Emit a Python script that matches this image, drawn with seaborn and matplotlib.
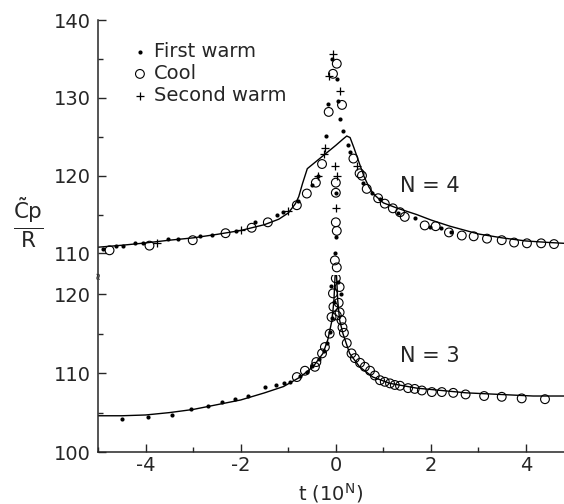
import matplotlib
matplotlib.use("Agg")
import matplotlib.pyplot as plt
import seaborn as sns
from matplotlib.ticker import MultipleLocator

# ---- data ----
# N = 4 (upper panel)
curve4_t = [-5.0, -4.5, -4.0, -3.5, -3.0, -2.5, -2.0, -1.5, -1.2, -1.0, -0.85, -0.78,
            -0.7, -0.6, 0.0, 0.15, 0.23, 0.3, 0.38, 0.5, 0.6, 0.7, 0.8, 1.0, 1.3, 1.7,
            2.0, 2.4, 3.0, 3.5, 4.0, 4.5, 4.8]
curve4_c = [110.8, 111.05, 111.35, 111.7, 112.0, 112.45, 112.95, 113.7, 114.4, 115.2,
            116.4, 117.3, 119.0, 120.9, 123.9, 124.7, 125.1, 124.9, 123.6, 121.5, 119.8,
            118.5, 117.6, 116.5, 115.8, 115.0, 114.3, 113.5, 112.5, 112.0, 111.6, 111.4, 111.3]

warm1_4_t = [-4.9, -4.62, -4.48, -4.23, -4.06, -3.54, -3.33, -2.86, -2.61, -2.1, -1.7,
             -1.24, -1.12, -0.8, -0.51, -0.38, -0.21, -0.08, 0.02, 0.04, -0.17, 0.08, 0.15,
             0.26, 0.3, 0.57, 0.76, 0.92, 1.3, 1.66, 1.98, 2.22, 2.42, 0.0, 0.0, -0.02]
warm1_4_c = [110.6, 110.9, 111.0, 111.3, 111.3, 111.8, 111.8, 112.2, 112.4, 112.9, 114.0,
             114.9, 115.3, 116.8, 118.8, 120.0, 125.1, 135.0, 132.4, 129.6, 129.2, 127.3, 125.8,
             124.0, 123.0, 119.0, 117.8, 117.0, 115.2, 114.5, 113.4, 113.3, 112.8, 117.8, 112.1, 110.1]

cool_4_t = [-4.76, -3.92, -3.01, -2.32, -1.77, -1.43, -0.82, -0.61, -0.42, -0.29, 0.02,
            -0.06, 0.13, -0.15, 0.0, 0.0, 0.0, 0.02, 0.37, 0.5, 0.65, 0.89, 1.03, 1.2, 1.35,
            1.45, 1.87, 2.1, 2.38, 2.65, 2.9, 3.18, 3.49, 3.75, 4.02, 4.32, 4.59, 0.55, -0.02, 0.02]
cool_4_c = [110.4, 111.0, 111.7, 112.6, 113.3, 114.0, 116.2, 117.7, 119.1, 121.5, 134.4,
            133.1, 129.1, 128.2, 119.1, 117.8, 114.0, 112.9, 122.2, 120.3, 118.3, 117.1, 116.4,
            115.8, 115.3, 114.7, 113.6, 113.5, 112.7, 112.3, 112.2, 111.9, 111.7, 111.4, 111.3,
            111.3, 111.2, 120.0, 109.1, 108.2]

warm2_4_t = [-3.77, -2.0, -1.0, -0.38, -0.23, -0.06, -0.15, 0.08, 0.44, -0.02, 0.0, 0.02, -0.25]
warm2_4_c = [111.3, 113.0, 115.5, 120.0, 123.5, 135.6, 132.8, 130.9, 121.3, 121.3, 115.8, 120.0, 122.8]

# N = 3 (lower panel)
curve3_t = [-5.0, -4.5, -4.0, -3.5, -3.0, -2.5, -2.0, -1.5, -1.1, -0.75, -0.48, -0.27,
            -0.17, -0.08, -0.04, -0.01, 0.01, 0.04, 0.08, 0.15, 0.29, 0.5, 0.78, 1.14, 1.7,
            2.75, 4.15, 4.8]
curve3_c = [104.6, 104.6, 104.7, 105.0, 105.4, 106.0, 106.6, 107.5, 108.3, 109.5, 110.8,
            112.5, 114.2, 116.7, 119.2, 123.0, 123.0, 119.2, 116.7, 115.0, 112.5, 110.8, 109.5,
            108.7, 108.1, 107.5, 107.1, 107.1]

warm1_3_t = [-4.5, -3.96, -3.45, -3.05, -2.69, -2.4, -2.13, -1.85, -1.49, -1.26, -1.1,
             -0.97, -0.75, -0.6, -0.5, -0.35, -0.25, -0.18, -0.12, -0.07, -0.04, -0.1, 0.05, 0.1]
warm1_3_c = [104.2, 104.4, 104.7, 105.4, 105.8, 106.3, 106.7, 107.1, 108.2, 108.5, 108.7,
             108.9, 109.6, 110.2, 110.9, 111.8, 112.8, 113.8, 115.2, 117.0, 119.0, 121.0, 121.5, 120.0]

cool_3_t = [-0.82, -0.65, -0.44, -0.41, -0.29, -0.23, -0.13, -0.09, -0.05, 0.06, 0.08, 0.12,
            0.14, 0.17, 0.23, 0.33, 0.4, 0.51, 0.61, 0.72, 0.82, 0.93, 1.03, 1.14, 1.24, 1.35,
            1.52, 1.66, 1.81, 2.02, 2.23, 2.47, 2.73, 3.12, 3.49, 3.91, 4.4, 0.0, -0.06, 0.08, 0.02]
cool_3_c = [109.5, 110.3, 110.8, 111.4, 112.5, 113.3, 115.0, 117.1, 118.4, 118.9, 117.7, 116.7,
            115.8, 115.1, 113.8, 112.5, 111.9, 111.3, 110.8, 110.3, 109.7, 109.1, 108.9, 108.7,
            108.5, 108.4, 108.1, 108.0, 107.8, 107.6, 107.6, 107.5, 107.3, 107.1, 107.0, 106.8,
            106.7, 122.0, 120.1, 120.9, 117.3]

# ---- style ----
sns.set_style("ticks")
plt.rcParams["font.family"] = ["DejaVu Sans"]
plt.rcParams["axes.unicode_minus"] = False
plt.rcParams["mathtext.fontset"] = "dejavusans"

fig = plt.figure(figsize=(5.64, 5.04), dpi=100)
ax_top = fig.add_axes([0.174, 0.454, 0.826, 0.506])
ax_bot = fig.add_axes([0.174, 0.103, 0.826, 0.351])

dot_kw = dict(marker="o", s=9, color="black", edgecolor="black", linewidth=0)
circ_kw = dict(marker="o", s=40, color="black", facecolor="none", edgecolor="black", linewidth=0.8)
plus_kw = dict(marker="+", s=40, color="black", linewidth=0.9)

# upper panel, N = 4
sns.lineplot(x=curve4_t, y=curve4_c, ax=ax_top, color="black", lw=1.0, sort=False, estimator=None)
sns.scatterplot(x=warm1_4_t, y=warm1_4_c, ax=ax_top, label="First warm", **dot_kw)
sns.scatterplot(x=cool_4_t, y=cool_4_c, ax=ax_top, label="Cool", **circ_kw)
sns.scatterplot(x=warm2_4_t, y=warm2_4_c, ax=ax_top, label="Second warm", **plus_kw)

# lower panel, N = 3
sns.lineplot(x=curve3_t, y=curve3_c, ax=ax_bot, color="black", lw=1.0, sort=False, estimator=None)
sns.scatterplot(x=warm1_3_t, y=warm1_3_c, ax=ax_bot, **dot_kw)
sns.scatterplot(x=cool_3_t, y=cool_3_c, ax=ax_bot, **circ_kw)

for ax in (ax_top, ax_bot):
    ax.set_xlim(-5, 4.8)
    ax.spines["top"].set_visible(False)
    ax.spines["right"].set_visible(False)
    ax.spines["left"].set_linewidth(1.1)
    ax.spines["bottom"].set_linewidth(1.1)
    ax.yaxis.set_major_locator(MultipleLocator(10))
    ax.yaxis.set_minor_locator(MultipleLocator(5))
    ax.tick_params(axis="both", which="major", direction="in", length=6, width=1.0,
                   labelsize=14, pad=5)
    ax.tick_params(axis="both", which="minor", direction="in", length=3.5, width=1.0)
    ax.set_xlabel("")
    ax.set_ylabel("")

ax_top.set_ylim(107.2, 140)
ax_top.spines["bottom"].set_visible(False)
ax_top.tick_params(axis="x", which="both", bottom=False, labelbottom=False)

ax_bot.set_ylim(100, 122.4)
ax_bot.xaxis.set_major_locator(MultipleLocator(2))
ax_bot.xaxis.set_minor_locator(MultipleLocator(1))
ax_bot.tick_params(axis="x", which="major", pad=3)
ax_bot.set_xlabel("t (10$^\\mathrm{N}$)", fontsize=14, labelpad=4)

# axis break mark
ax_bot.text(0, 1, "\u2248", transform=ax_bot.transAxes, ha="center", va="center",
            fontsize=7, rotation=90, clip_on=False)

ax_top.text(1.98, 118.7, "N = 4", fontsize=15, ha="center", va="center")
ax_bot.text(1.98, 112.2, "N = 3", fontsize=15, ha="center", va="center")

fig.text(28 / 564, 1 - 223 / 504, r"$\frac{\tilde{\mathrm{C}}\mathrm{p}}{\mathrm{R}}$",
         fontsize=22, ha="center", va="center")

ax_top.legend(loc="upper left", bbox_to_anchor=(0.073, 0.914), frameon=False, fontsize=14,
              handlelength=0.8, handletextpad=0.3, labelspacing=0.15, borderpad=0,
              borderaxespad=0, scatterpoints=1)
ax_bot.legend_ = None

fig.savefig("out.png", dpi=100)
